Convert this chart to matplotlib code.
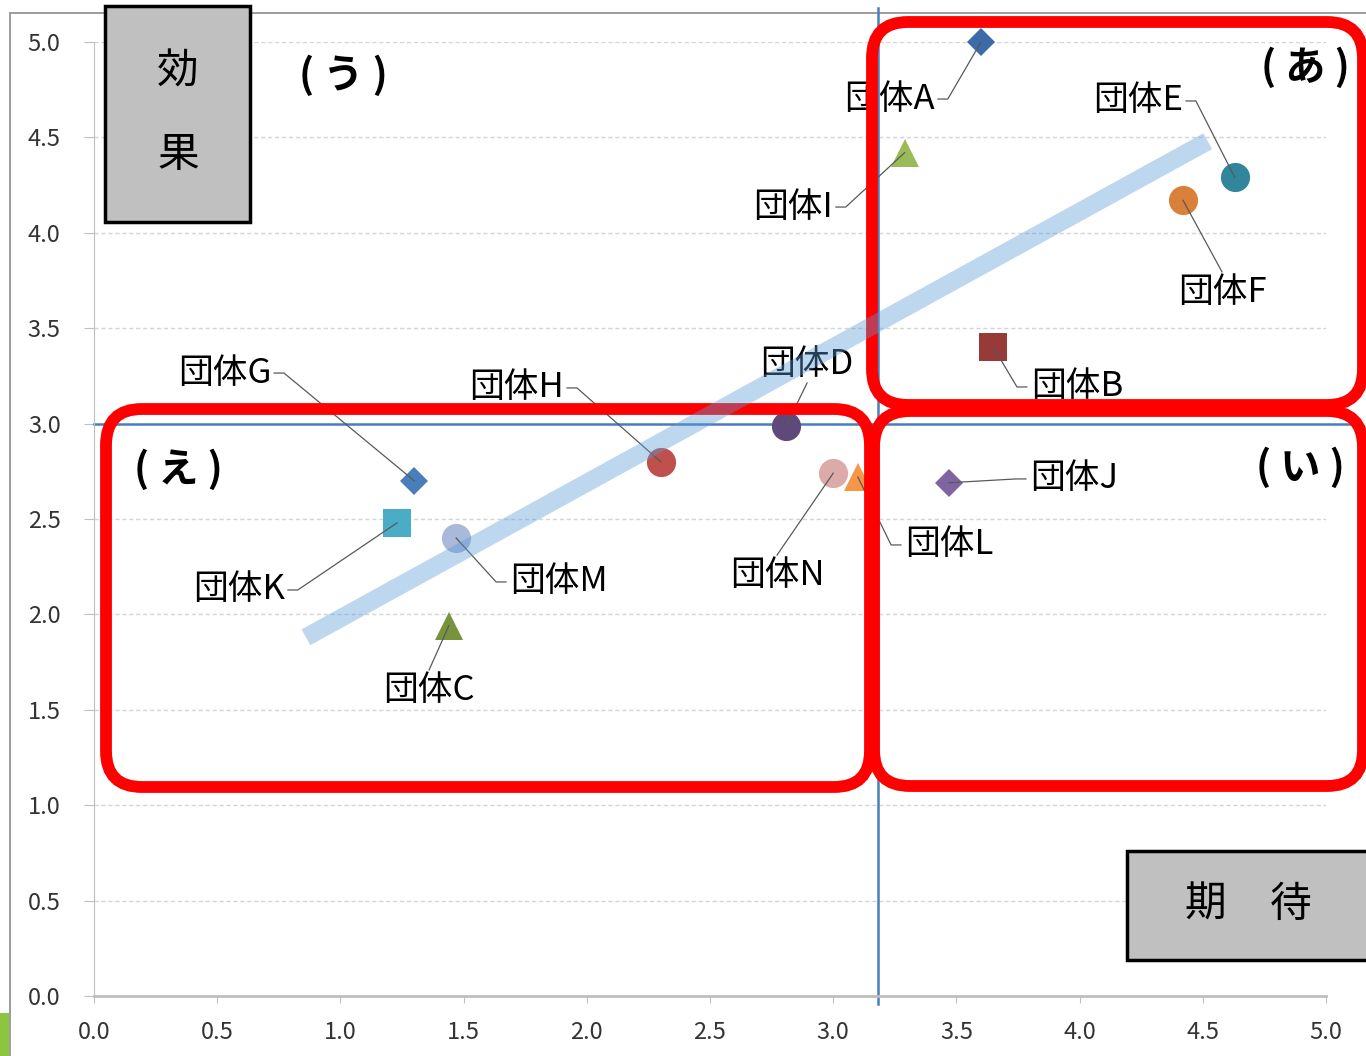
import matplotlib
matplotlib.use("Agg")
import matplotlib.pyplot as plt
from matplotlib.patches import FancyBboxPatch, Rectangle

plt.rcParams["font.family"] = ["Noto Sans CJK JP", "DejaVu Sans"]

# 団体ごとの「期待」(横軸) と「効果」(縦軸)
groups = ["団体A", "団体B", "団体C", "団体D", "団体E", "団体F", "団体G",
          "団体H", "団体I", "団体J", "団体K", "団体L", "団体M", "団体N"]
expect = [3.60, 3.65, 1.44, 2.81, 4.63, 4.42, 1.30,
          2.30, 3.29, 3.47, 1.23, 3.10, 1.47, 3.00]
effect = [5.00, 3.40, 1.94, 2.99, 4.29, 4.17, 2.70,
          2.80, 4.42, 2.69, 2.48, 2.72, 2.40, 2.74]

# 平均線と近似直線
mean_expect = 3.18
mean_effect = 3.00
trend_x = [0.86, 4.52]
trend_y = [1.88, 4.48]

ticks = [0.0, 0.5, 1.0, 1.5, 2.0, 2.5, 3.0, 3.5, 4.0, 4.5, 5.0]

# マーカーの形・色・大きさ
markers = ["D", "s", "^", "o", "o", "o", "D", "o", "^", "D", "s", "^", "o", "o"]
colors = ["#3d6aa8", "#973a38", "#77933c", "#5f497a", "#31859c", "#d9803a", "#4a7ebb",
          "#c0504d", "#9bbb59", "#8064a2", "#4bacc6", "#f79646", "#aab8da", "#dcaaa9"]
sizes = [14, 20, 20, 21, 21, 21, 14, 21, 20, 14, 20, 20, 21, 21]

# ラベルの引き出し線の起点 (データ座標) と、ラベルを置く向き
label_anchor = {
    "団体A": (3.425, 4.701, "l"), "団体B": (3.786, 3.192, "r"),
    "団体C": (1.360, 1.709, "b"), "団体D": (2.894, 3.213, "t"),
    "団体E": (4.432, 4.691, "l"), "団体F": (4.578, 3.795, "b"),
    "団体G": (0.731, 3.265, "l"), "団体H": (1.920, 3.187, "l"),
    "団体I": (3.011, 4.135, "l"), "団体J": (3.782, 2.710, "r"),
    "団体K": (0.787, 2.128, "l"), "団体L": (3.275, 2.364, "r"),
    "団体M": (1.672, 2.170, "r"), "団体N": (2.772, 2.311, "b"),
}

W, H, DPI = 1366, 1056, 100
fig = plt.figure(figsize=(W / DPI, H / DPI), dpi=DPI)
ax = fig.add_axes([94 / W, 1 - 996 / H, (1326 - 94) / W, (996 - 42) / H])
ax.set_facecolor("none")


def inch(x, y):
    # 画像上の位置 (左上原点のピクセル) をインチに変換
    return x / DPI, (H - y) / DPI


def frac(x, y):
    return x / W, 1 - y / H


# グラフエリアの枠
fig.add_artist(Rectangle(inch(10, 1100), 14, (1100 - 13) / DPI, transform=fig.dpi_scale_trans,
                         fill=False, edgecolor="#8c8c8c", lw=1.2, zorder=-1))
fig.add_artist(Rectangle(inch(0, 1056), 0.09, 0.43, transform=fig.dpi_scale_trans,
                         facecolor="#8cc63f", edgecolor="none", zorder=-1))

ax.set_xlim(0, 5)
ax.set_ylim(0, 5)
ax.set_xticks(ticks)
ax.set_yticks(ticks)
ax.set_xticklabels([f"{t:.1f}" for t in ticks])
ax.set_yticklabels([f"{t:.1f}" for t in ticks])
ax.grid(axis="y", color="#d4d4d4", linestyle=(0, (3, 2)), lw=1)
ax.set_axisbelow(True)
for side in ["top", "right"]:
    ax.spines[side].set_visible(False)
ax.spines["left"].set_color("#bfbfbf")
ax.spines["bottom"].set_color("#bfbfbf")
ax.spines["bottom"].set_linewidth(2)
ax.tick_params(axis="y", length=7, pad=17, color="#bfbfbf", labelsize=17, labelcolor="#333333")
ax.tick_params(axis="x", length=5, pad=13, color="#bfbfbf", labelsize=17, labelcolor="#333333")

# 平均線
ax.plot([mean_expect, mean_expect], [-0.04, 5.18], color="#4a7ebb", lw=1.8, clip_on=False, zorder=2)
ax.plot([0, 5.12], [mean_effect, mean_effect], color="#4a7ebb", lw=1.8, clip_on=False, zorder=2)

# 各団体のマーカー
for x, y, m, c, s in zip(expect, effect, markers, colors, sizes):
    ax.plot(x, y, marker=m, color=c, ms=s, mew=0, linestyle="none", zorder=3, clip_on=False)

# ラベルと引き出し線
hook = 0.04
lead = dict(color="#595959", lw=0.9, zorder=4, clip_on=False)
for name, x, y in zip(groups, expect, effect):
    lx, ly, side = label_anchor[name]
    if side == "l":
        ax.plot([lx, lx + hook, x], [ly, ly, y], **lead)
        ax.annotate(name, (lx, ly), xytext=(-2, 0), textcoords="offset points",
                    ha="right", va="center", fontsize=25, zorder=4)
    elif side == "r":
        ax.plot([lx, lx - hook, x], [ly, ly, y], **lead)
        ax.annotate(name, (lx, ly), xytext=(3, 0), textcoords="offset points",
                    ha="left", va="center", fontsize=25, zorder=4)
    elif side == "t":
        ax.plot([lx, x], [ly, y], **lead)
        ax.annotate(name, (lx, ly), xytext=(0, 1), textcoords="offset points",
                    ha="center", va="bottom", fontsize=25, zorder=4)
    else:
        ax.plot([lx, x], [ly, y], **lead)
        ax.annotate(name, (lx, ly), xytext=(0, -2), textcoords="offset points",
                    ha="center", va="top", fontsize=25, zorder=4)

# 象限を囲む赤枠
red_boxes = [(872, 22, 1363, 405), (874, 411, 1363, 786), (106, 409, 870, 787)]
for x0, y0, x1, y1 in red_boxes:
    ax.add_artist(FancyBboxPatch(inch(x0, y1), (x1 - x0) / DPI, (y1 - y0) / DPI,
                                 boxstyle="round,pad=0,rounding_size=0.36",
                                 transform=fig.dpi_scale_trans, fill=False,
                                 edgecolor="#ff0000", lw=8.5, clip_on=False, zorder=5))

# 近似直線（半透明）
ax.plot(trend_x, trend_y, color="#5b9bd5", alpha=0.4, lw=13, solid_capstyle="butt", zorder=6)

# 象限の記号
for txt, (px, py) in [("( う )", (343, 76)), ("( あ )", (1305, 68)),
                      ("( い )", (1300, 468)), ("( え )", (178, 470))]:
    fig.text(*frac(px, py), txt, ha="center", va="center", fontsize=29, fontweight="bold")

# 軸名の箱
fig.add_artist(Rectangle(inch(105, 222), 1.45, 2.16, transform=fig.dpi_scale_trans,
                         facecolor="#c0c0c0", edgecolor="black", lw=2.5, zorder=8))
fig.add_artist(Rectangle(inch(1127, 960), 2.6, 1.09, transform=fig.dpi_scale_trans,
                         facecolor="#c0c0c0", edgecolor="black", lw=2.5, zorder=8))
fig.text(*frac(178, 72), "効", ha="center", va="center", fontsize=30, zorder=9)
fig.text(*frac(178, 155), "果", ha="center", va="center", fontsize=30, zorder=9)
fig.text(*frac(1205, 905), "期", ha="center", va="center", fontsize=30, zorder=9)
fig.text(*frac(1291, 905), "待", ha="center", va="center", fontsize=30, zorder=9)

fig.savefig("out.png", dpi=DPI)
